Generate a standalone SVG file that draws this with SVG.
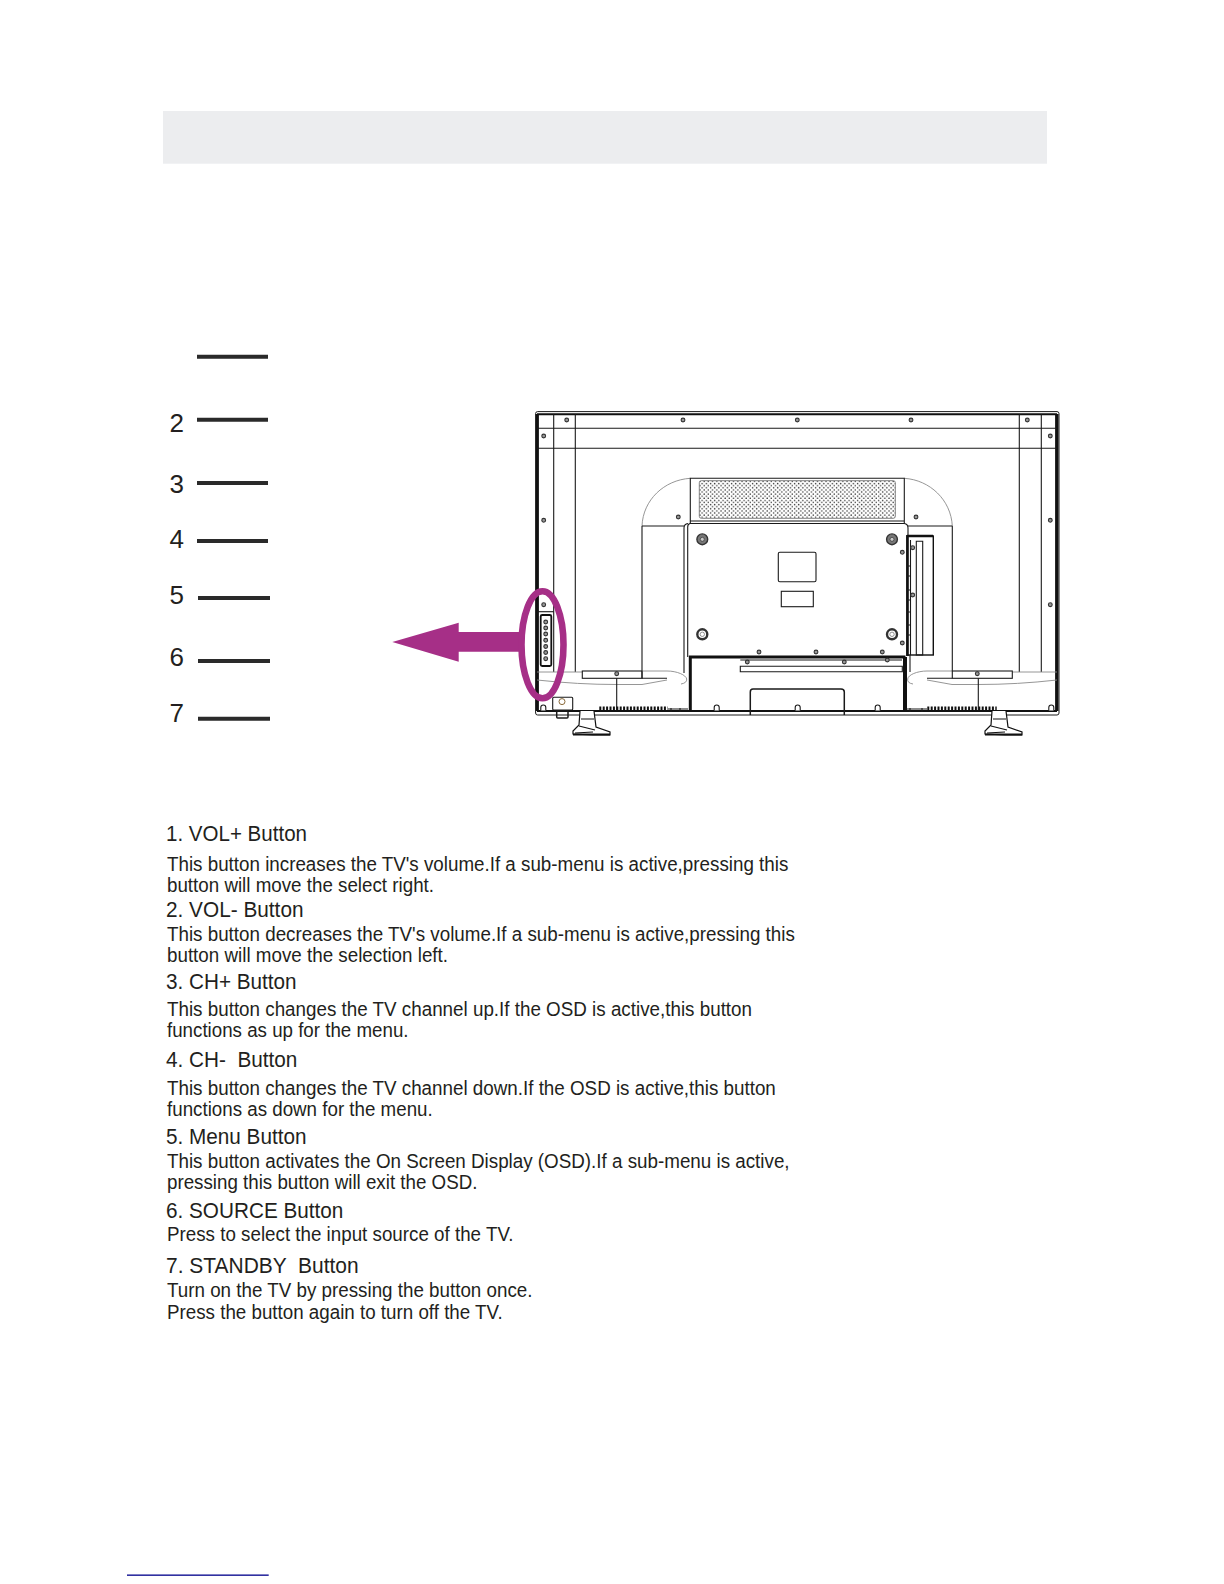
<svg xmlns="http://www.w3.org/2000/svg" width="1224" height="1584" viewBox="0 0 1224 1584">
<style>
text{font-family:"Liberation Sans",Arial,sans-serif;fill:#231f20}
.h{font-size:21.5px}
.b{font-size:19.4px}
.n{font-size:26px}
.cl{stroke:#2a2a2a;stroke-width:4;fill:none}
.k{stroke:#1a1a1a;stroke-width:1.1;fill:none}
.m{stroke:#1a1a1a;stroke-width:1.5;fill:none}
.t{stroke:#111;stroke-width:3;fill:none}
.g{stroke:#8a8a8a;stroke-width:.9;fill:none}
.w{stroke:#1a1a1a;stroke-width:1.1;fill:#fff}
</style>
<defs>
<pattern id="dots" width="4.2" height="4.2" patternUnits="userSpaceOnUse" x="699" y="480.5">
<rect width="4.2" height="4.2" fill="#fff"/>
<circle cx="1" cy="1" r=".72" fill="#333"/>
<circle cx="3.1" cy="3.1" r=".72" fill="#333"/>
</pattern>
<g id="screw"><circle r="1.9" fill="#999" stroke="#333" stroke-width="1.1"/></g>
<g id="bigscrew"><circle r="5.4" fill="#777" stroke="#333" stroke-width="1.4"/><circle r="2" fill="#ccc" stroke="#333" stroke-width=".7"/></g>
<g id="ringscrew"><circle r="5" fill="#fff" stroke="#333" stroke-width="2.4"/><circle r="2.2" fill="#fff" stroke="#777" stroke-width=".8"/></g>
<g id="nub"><path d="M-2.5 0V-3a2.5 2.5 0 0 1 5 0V0" fill="#fff" stroke="#1a1a1a" stroke-width="1.1"/></g>
<g id="foot"><path d="M7 0L6 14L0 20V23L20 24H37V21L23 16L21 0" fill="#fff" stroke="#111" stroke-width="1.2"/><path d="M8 8H21M6 15L22 19M2 22L20 21" stroke="#111" stroke-width="1.1" fill="none"/><path d="M0 23.5H37" stroke="#111" stroke-width="2" fill="none"/></g>
</defs>
<rect width="1224" height="1584" fill="#fff"/>
<rect id="banner" x="163" y="111" width="884" height="52.7" fill="#ecedef"/>

<g id="connectors">
<path class="cl" d="M197 356.7H268M197 419.7H268M197 483H268M197 541H268M198 598H270M198 661H270M198 718.7H270"/>
</g>
<g id="callout-numbers">
<text class="n" x="169.5" y="431.7">2</text>
<text class="n" x="169.5" y="492.7">3</text>
<text class="n" x="169.5" y="548.3">4</text>
<text class="n" x="169.5" y="604">5</text>
<text class="n" x="169.5" y="666">6</text>
<text class="n" x="169.5" y="721.7">7</text>
</g>

<g id="tv">
<!-- frame -->
<rect x="535.6" y="411.6" width="523.4" height="303.4" rx="2" fill="none" stroke="#1a1a1a" stroke-width="1"/>
<path stroke="#111" stroke-width="2" fill="none" d="M537 414.2H1057"/>
<path class="t" d="M537.4 414V711"/>
<path stroke="#111" stroke-width="3.4" fill="none" d="M1056.8 414V711"/>
<path class="k" d="M537 428.3H1057M537 448.3H1057M553.7 414V672M575.3 414V672M1019.3 414V672M1041.3 414V672"/>
<path stroke="#111" stroke-width="1.8" fill="none" d="M537 711H1057"/>
<!-- stand back -->
<path class="g" d="M642 526C643 500 664 480 690.3 478.3M904.3 478.3C930 480 951 500 952.3 526"/>
<path class="k" d="M690.3 478.3H904.3V523.5H690.3ZM690.3 521H904.3"/>
<rect x="699.3" y="480.7" width="196" height="37.6" rx="2" fill="url(#dots)" stroke="#666" stroke-width=".8"/>
<path class="k" d="M642 526H684M908 526H952.3M642 526V678.3M952.3 526V671"/>
<path class="k" d="M684 673V528Q684 524 688 523.5M687.7 657V527Q687.7 524 690 523.5M904.3 523.5Q908 524 908 528V536"/>
<path class="k" d="M910 655V672"/>
<!-- rear labels -->
<rect class="k" x="778.3" y="552.3" width="37.7" height="29.4" rx="1.5"/>
<rect class="k" x="781.3" y="591.3" width="32" height="15.4"/>
<!-- screws -->
<use href="#bigscrew" x="702.3" y="539.3"/>
<use href="#bigscrew" x="892" y="539.3"/>
<use href="#ringscrew" x="702.3" y="634.3"/>
<use href="#ringscrew" x="892" y="634.3"/>
<use href="#screw" x="566.7" y="420"/><use href="#screw" x="683" y="420"/><use href="#screw" x="797.3" y="420"/><use href="#screw" x="911" y="420"/><use href="#screw" x="1027.3" y="420"/>
<use href="#screw" x="543.7" y="436"/><use href="#screw" x="543.7" y="520.3"/><use href="#screw" x="543.7" y="604.7"/>
<use href="#screw" x="1050.3" y="436"/><use href="#screw" x="1050.3" y="520.3"/><use href="#screw" x="1050.3" y="604.7"/>
<use href="#screw" x="678.3" y="517"/><use href="#screw" x="916" y="517"/>
<use href="#screw" x="616.7" y="673.7"/><use href="#screw" x="977.3" y="673.7"/>
<use href="#screw" x="759" y="652"/><use href="#screw" x="816" y="652"/><use href="#screw" x="882.3" y="652"/>
<use href="#screw" x="902.3" y="552.3"/><use href="#screw" x="902.3" y="643"/>
<!-- bottom cover -->
<path class="t" d="M905.5 657H690.3V710.5"/>
<path stroke="#111" stroke-width="4" fill="none" d="M905 657V710"/>
<path class="k" d="M740.3 660H902M740.3 666.3H902.3V671.7H740.3Z"/>
<use href="#screw" x="747.3" y="662"/><use href="#screw" x="844.3" y="662"/><use href="#screw" x="887.3" y="660"/>
<path class="m" d="M750.3 715V692Q750.3 689 753 689H841Q844.3 689 844.3 692V715"/>
<use href="#nub" x="716.7" y="710.5"/><use href="#nub" x="797.7" y="710.5"/><use href="#nub" x="877.7" y="710.5"/><use href="#nub" x="543.3" y="710.5"/><use href="#nub" x="1051.3" y="710.5"/>
<!-- side panel right -->
<rect x="907" y="536" width="26.3" height="119" fill="#fff" stroke="#111" stroke-width="1.4"/>
<path stroke="#111" stroke-width="2.6" fill="none" d="M907.5 535V656M907 536H933"/>
<path class="k" d="M910.5 540V655M916.3 541.3H922.7V655H916.3Z"/>
<path class="k" d="M907 566H910.5M907 576H910.5M907 590H910.5M907 600H910.5M907 612H910.5M907 625H910.5M907 635H910.5"/>
<use href="#screw" x="912.7" y="547.7"/><use href="#screw" x="912.7" y="595"/>
<!-- lower gray sweep -->
<path class="g" d="M537 672H582.3M642 671H667C677 671 686 675 686.7 679Q687 683 681 684M537 680C565 683 590 684.5 617 684.5H642L667 680"/>
<path class="g" d="M1057 672H1012.3M952.3 671H927C917 671 908 675 907.7 679Q907 683 913 684M1057 680C1030 683 1005 684.5 978 684.5H952L927 680"/>
<rect class="k" x="582.3" y="671" width="59.7" height="7.3"/>
<rect class="k" x="952.3" y="671" width="60" height="7.3"/>
<path class="k" d="M642 678.3H667M927 678.3H952.3M616.7 678.3V711M978.3 678.3V711"/>
<!-- vents -->
<path stroke="#111" stroke-width="4.6" stroke-dasharray="2 1.4" fill="none" d="M599.3 708.8H667.7M927.3 708.8H996.7"/>
<path class="k" d="M668 709H688M905 709H927M671 708V712M680 708V712M910 708V712M922 708V712"/>
<!-- connector & feet -->
<rect class="w" x="552.7" y="697.3" width="20" height="12.7" rx="1"/>
<circle cx="562" cy="701.6" r="3" fill="#fff" stroke="#8a6a3a" stroke-width="1"/>
<rect class="m" x="556.7" y="711" width="11.3" height="7" rx="1" fill="#fff"/>
<use href="#foot" x="573" y="711"/>
<use href="#foot" x="985" y="711"/>
<!-- button panel -->
<path class="k" d="M537 611.7H553.7"/>
<rect x="540.7" y="615" width="10.6" height="51" rx="1.5" fill="#fff" stroke="#111" stroke-width="1.8"/>
<use href="#screw" x="545.7" y="622"/><use href="#screw" x="545.7" y="628"/><use href="#screw" x="545.7" y="634"/><use href="#screw" x="545.7" y="640.3"/><use href="#screw" x="545.7" y="646.5"/><use href="#screw" x="545.7" y="652.5"/><use href="#screw" x="545.7" y="658.7"/>
</g>

<g id="highlight">
<path fill="#a62f87" d="M392.3 642L458.7 622.7V632H521V651.7H458.7V661.7Z"/>
<ellipse cx="542.5" cy="644.8" rx="21" ry="53.5" fill="none" stroke="#a62f87" stroke-width="6.6"/>
</g>

<g id="descriptions">
<text class="h" x="166" y="841" textLength="141" lengthAdjust="spacingAndGlyphs">1. VOL+ Button</text>
<text class="b" x="167" y="871" textLength="621.3" lengthAdjust="spacingAndGlyphs">This button increases the TV's volume.If a sub-menu is active,pressing this</text>
<text class="b" x="167" y="892" textLength="267" lengthAdjust="spacingAndGlyphs">button will move the select right.</text>
<text class="h" x="166" y="916.7" textLength="137.5" lengthAdjust="spacingAndGlyphs">2. VOL- Button</text>
<text class="b" x="167" y="941.3" textLength="627.8" lengthAdjust="spacingAndGlyphs">This button decreases the TV's volume.If a sub-menu is active,pressing this</text>
<text class="b" x="167" y="962.3" textLength="281" lengthAdjust="spacingAndGlyphs">button will move the selection left.</text>
<text class="h" x="166" y="989" textLength="130.6" lengthAdjust="spacingAndGlyphs">3. CH+ Button</text>
<text class="b" x="167" y="1015.7" textLength="585" lengthAdjust="spacingAndGlyphs">This button changes the TV channel up.If the OSD is active,this button</text>
<text class="b" x="167" y="1037" textLength="241.5" lengthAdjust="spacingAndGlyphs">functions as up for the menu.</text>
<text class="h" x="166" y="1066.7" textLength="131.4" lengthAdjust="spacingAndGlyphs" xml:space="preserve">4. CH-  Button</text>
<text class="b" x="167" y="1094.7" textLength="608.8" lengthAdjust="spacingAndGlyphs">This button changes the TV channel down.If the OSD is active,this button</text>
<text class="b" x="167" y="1115.7" textLength="265.7" lengthAdjust="spacingAndGlyphs">functions as down for the menu.</text>
<text class="h" x="166" y="1144" textLength="140.5" lengthAdjust="spacingAndGlyphs">5. Menu Button</text>
<text class="b" x="167" y="1168" textLength="622.6" lengthAdjust="spacingAndGlyphs">This button activates the On Screen Display (OSD).If a sub-menu is active,</text>
<text class="b" x="167" y="1189" textLength="310.4" lengthAdjust="spacingAndGlyphs">pressing this button will exit the OSD.</text>
<text class="h" x="166" y="1217.7" textLength="177.4" lengthAdjust="spacingAndGlyphs">6. SOURCE Button</text>
<text class="b" x="167" y="1241" textLength="346.4" lengthAdjust="spacingAndGlyphs">Press to select the input source of the TV.</text>
<text class="h" x="166" y="1272.7" textLength="192.6" lengthAdjust="spacingAndGlyphs" xml:space="preserve">7. STANDBY  Button</text>
<text class="b" x="167" y="1297.3" textLength="365.5" lengthAdjust="spacingAndGlyphs">Turn on the TV by pressing the button once.</text>
<text class="b" x="167" y="1318.7" textLength="335.6" lengthAdjust="spacingAndGlyphs">Press the button again to turn off the TV.</text>
</g>

<rect id="footer-rule" x="127" y="1574.5" width="141.7" height="1.3" fill="#00008b"/>
</svg>
